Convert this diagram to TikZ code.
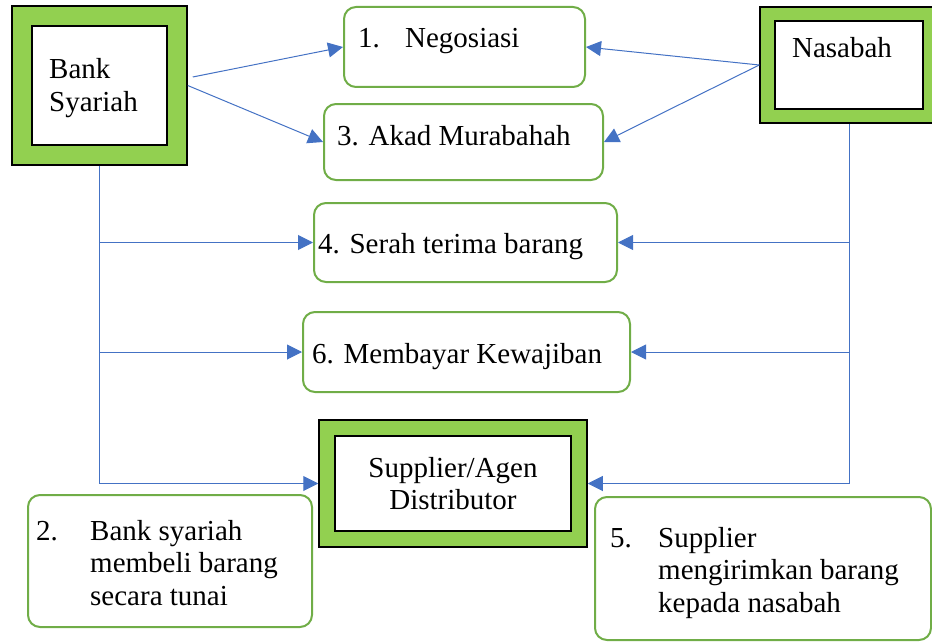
\documentclass[tikz,border=0pt]{standalone}
\usepackage{fontspec}
\setmainfont{Liberation Serif}
\usetikzlibrary{arrows.meta,%
                calc}
\definecolor{boxgreen}{HTML}{92D050}
\definecolor{linegreen}{HTML}{70AD47}
\definecolor{arrowblue}{HTML}{4472C4}

\begin{document}
\begin{tikzpicture}[x=1pt,y=-1pt,font=\fontsize{29pt}{32.5pt}\selectfont,
    outerbox/.style={rectangle, draw=black, line width=1.5pt, fill=boxgreen, inner sep=0pt},
    innerbox/.style={rectangle, draw=black, line width=2.5pt, fill=white, inner sep=0pt},
    stepbox/.style={rectangle, rounded corners=12pt, draw=linegreen, line width=2pt, inner sep=0pt},
    steptext/.style={anchor=base west, inner sep=0pt},
    flow/.style={draw=arrowblue, line width=1pt, -{Triangle[length=15pt,width=15pt]}}]
    \path[use as bounding box, clip] (0,0) rectangle (932,642);
    % the three parties
    \node (bank) at (99.5,85.5)[outerbox, minimum width=175pt, minimum height=159pt]{};
    \node (bankin) at (bank.center)[innerbox, minimum width=135pt, minimum height=119pt]{};
    \node (banktxt) at (49,79)[steptext]{\begin{tabular}[t]{@{}l@{}}Bank\\Syariah\end{tabular}};
    \node (nas) at (849,65)[outerbox, minimum width=178pt, minimum height=116pt]{};
    \node (nasin) at (nas.center)[innerbox, minimum width=148pt, minimum height=88pt]{};
    \node (nastxt) at (842,58)[anchor=base, inner sep=0pt]{Nasabah};
    \node (sup) at (453,483.5)[outerbox, minimum width=268pt, minimum height=127pt]{};
    \node (supin) at (sup.center)[innerbox, minimum width=236pt, minimum height=95pt, align=center]{Supplier/Agen\\Distributor};
    % the steps
    \node (neg) at (464.5,47)[stepbox, minimum width=241pt, minimum height=80pt]{};
    \node (negtxt) at (358,48)[steptext]{\makebox[47pt][l]{1.}Negosiasi};
    \node (akad) at (463.5,142)[stepbox, minimum width=279pt, minimum height=76pt]{};
    \node (akadtxt) at (337,145)[steptext]{3. Akad Murabahah};
    \node (serah) at (465.5,242.5)[stepbox, minimum width=303pt, minimum height=79pt]{};
    \node (serahtxt) at (318,253)[steptext]{4. Serah terima barang};
    \node (bayar) at (466.5,352)[stepbox, minimum width=327pt, minimum height=80pt]{};
    \node (bayartxt) at (312,363)[steptext]{6. Membayar Kewajiban};
    \node (beli) at (170,561)[stepbox, minimum width=284pt, minimum height=132pt]{};
    \node (belitxt) at (36,540)[steptext]{\begin{tabular}[t]{@{}p{54pt}@{}l@{}}2. & Bank syariah\\ & membeli barang\\ & secara tunai\end{tabular}};
    \node (kirim) at (763,568.5)[stepbox, minimum width=336pt, minimum height=143pt]{};
    \node (kirimtxt) at (610,547)[steptext]{\begin{tabular}[t]{@{}p{48pt}@{}l@{}}5. & Supplier\\ & mengirimkan barang\\ & kepada nasabah\end{tabular}};
    % arrows
    \draw[flow] ($(bank.east)+(5,-8.5)$) -- (neg.west);
    \draw[flow] (bank.east) -- (akad.west);
    \draw[flow] (nas.west) -- (neg.east);
    \draw[flow] (nas.west) -- (akad.east);
    \draw[flow] (bank.south) |- (sup.west);
    \draw[flow] (bank.south |- serah.west) -- (serah.west);
    \draw[flow] (bank.south |- bayar.west) -- (bayar.west);
    \draw[flow] (nas.south) |- (sup.east);
    \draw[flow] (nas.south |- serah.east) -- (serah.east);
    \draw[flow] (nas.south |- bayar.east) -- (bayar.east);
\end{tikzpicture}
\end{document}
